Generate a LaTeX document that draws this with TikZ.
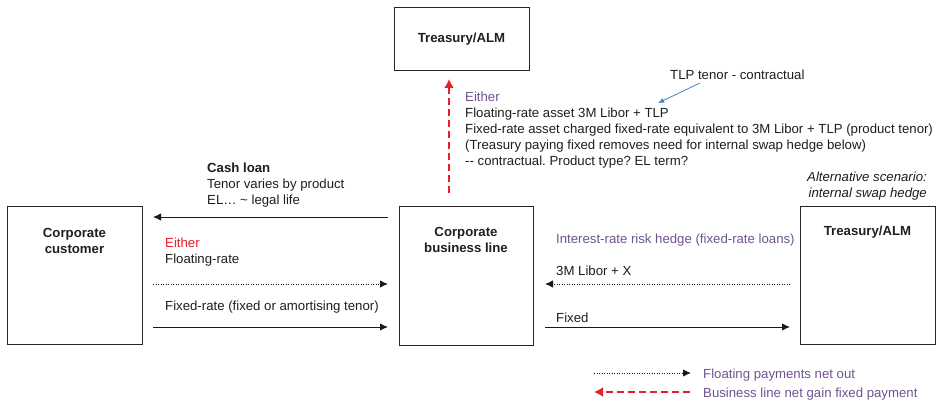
\documentclass[tikz,border=0pt]{standalone}
\usepackage{fontspec}
\setmainfont{Liberation Sans}
\usetikzlibrary{arrows.meta}
\definecolor{purp}{RGB}{111,84,145}
\definecolor{redd}{RGB}{230,32,40}
\definecolor{bluea}{RGB}{70,130,200}
\definecolor{txt}{RGB}{30,30,30}
\frenchspacing
\begin{document}
\begin{tikzpicture}[x=1pt,y=-1pt,
  font=\fontsize{13.2}{16}\selectfont,
  box/.style={draw=black!85, line width=1.1pt, anchor=north west},
  boxlabel/.style={font=\fontsize{13.2}{16}\selectfont\bfseries, align=center, text=txt, inner sep=0pt},
  lbl/.style={anchor=north west, inner sep=0pt, align=left, text=txt},
  flow/.style={line width=1pt, draw=black!90, -{Latex[length=8pt,width=7.5pt]}},
  floatflow/.style={flow, dash pattern=on 1pt off 1.5pt},
  gainflow/.style={line width=2.2pt, draw=redd, dash pattern=on 7pt off 4pt, -{Latex[length=9pt,width=10pt]}}
]
\useasboundingbox (0,0) rectangle (941,401);

% boxes
\node[box, minimum width=135pt, minimum height=63pt] (tt) at (394,7) {};
\node[boxlabel] (ttl) at (461.5,39) {Treasury/ALM};
\node[box, minimum width=135pt, minimum height=138pt] (cc) at (7,206) {};
\node[boxlabel] (ccl) at (74.5,241) {Corporate\\customer};
\node[box, minimum width=134pt, minimum height=139pt] (bl) at (399,206) {};
\node[boxlabel] (bll) at (466,240) {Corporate\\business line};
\node[box, minimum width=135pt, minimum height=138pt] (tr) at (800,206) {};
\node[boxlabel] (trl) at (867.5,232) {Treasury/ALM};

% coordinates
\coordinate (cashS) at (388,217);
\coordinate (cashE) at (153,217);
\coordinate (flS) at (153,284);
\coordinate (flE) at (388,284);
\coordinate (fxS) at (153,327);
\coordinate (fxE) at (388,327);
\coordinate (redS) at (449,193);
\coordinate (redE) at (449,79);
\coordinate (hfS) at (790,284);
\coordinate (hfE) at (545,284);
\coordinate (hxS) at (545,327);
\coordinate (hxE) at (790,327);
\coordinate (lgaS) at (594,373);
\coordinate (lgaE) at (691,373);
\coordinate (lgbS) at (690,392);
\coordinate (lgbE) at (594,392);

% arrows
\draw[flow] (cashS) -- (cashE);
\draw[floatflow] (flS) -- (flE);
\draw[flow] (fxS) -- (fxE);
\draw[gainflow] (redS) -- (redE);
\draw[floatflow] (hfS) -- (hfE);
\draw[flow] (hxS) -- (hxE);
\draw[floatflow] (lgaS) -- (lgaE);
\draw[gainflow] (lgbS) -- (lgbE);

% labels
\node[lbl] (cash) at (207,162.3) {\textbf{Cash loan}\\Tenor varies by product\\EL… \textasciitilde{} legal life};
\node[lbl] (either1) at (165,237.3) {\textcolor{redd}{Either}\\Floating-rate};
\node[lbl] (fixr) at (165,300.3) {Fixed-rate (fixed or amortising tenor)};
\node[lbl] (either2) at (465,91.3) {\textcolor{purp}{Either}\\Floating-rate asset 3M Libor + TLP\\Fixed-rate asset charged fixed-rate equivalent to 3M Libor + TLP (product tenor)\\(Treasury paying fixed removes need for internal swap hedge below)\\-{}- contractual. Product type? EL term?};
\node[lbl] (tlp) at (670,69.3) {TLP tenor - contractual};
\coordinate (tlpA) at (700,83);
\coordinate (tlpB) at (658,103);
\draw[draw=bluea, line width=0.8pt, -{Latex[length=6pt,width=5pt]}] (tlpA) -- (tlpB);
\node[lbl, anchor=north east, align=right, font=\fontsize{13.2}{15.5}\selectfont\itshape] (alt) at (927,171.8) {Alternative scenario:\\internal swap hedge};
\node[lbl, text=purp] (irr) at (556,233.3) {Interest-rate risk hedge (fixed-rate loans)};
\node[lbl] (libor) at (556,265.3) {3M Libor + X};
\node[lbl] (fixed) at (556,312.3) {Fixed};
\node[lbl, text=purp] (lga) at (703,368.3) {Floating payments net out};
\node[lbl, text=purp] (lgb) at (703,387.3) {Business line net gain fixed payment};
\end{tikzpicture}
\end{document}
